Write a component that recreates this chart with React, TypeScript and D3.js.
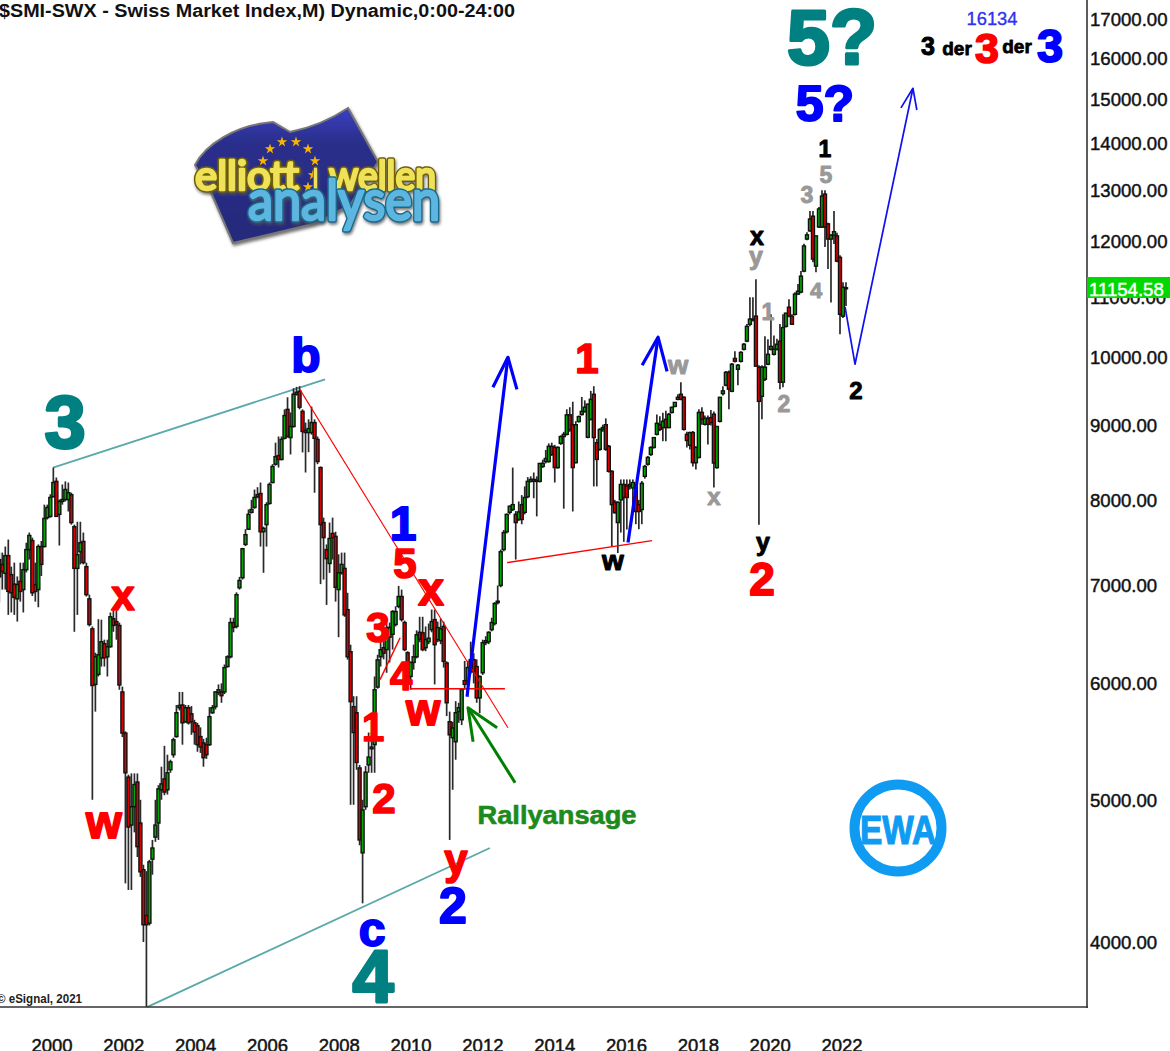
import React from "react";
import * as d3 from "d3";

// Monthly candles, each row is open, high, low, close
const y1998 = [[7285,7365,6810,7090],[7230,7365,6950,7150],[7130,7435,6950,7330],[7330,7517,6680,6930],[7115,7205,6705,6915],[7010,7250,6680,6865]];
const y1999 = [[6850,7095,6610,7005],[7040,7250,6820,6930],[6950,7250,6705,7170],[7170,7480,7140,7400],[7400,7600,7285,7565],[7505,7540,6880,6915],[7005,7250,6820,6930],[6950,7460,6760,7435],[7435,7500,7100,7230],[7435,7940,7425,7770],[7780,7940,7757,7905],[7795,8070,7780,8030]];
const y2000 = [[8040,8415,8030,8220],[8235,8285,7795,7795],[7820,8004,7447,7980],[7980,8195,7940,8004],[8004,8235,7980,8131],[8004,8220,7855,8090],[8065,8090,7695,7720],[7670,7695,6505,7185],[7185,7730,6680,7340],[7375,7730,7230,7480],[7495,7600,7230,7250],[7205,7250,6875,6895]];
const y2001 = [[6850,6895,6560,6580],[6535,6560,4999,5980],[5990,6295,5740,6255],[6085,6635,6065,6275],[6245,6630,6160,6405],[6385,6425,6160,6245],[6255,6425,6065,6355],[6355,6705,6345,6660],[6640,6735,6505,6570],[6610,6725,6425,6580],[6570,6600,5940,5985],[5920,5970,5515,5550]];
const y2002 = [[5550,5565,4385,5215],[5180,5200,4340,4790],[4805,5210,4340,4945],[4945,5210,4750,5120],[5140,5210,4570,4645],[4820,4999,4430,4465],[4480,4515,4000,4110],[4170,4470,3613,4110],[4120,4550,4105,4535],[4555,4694,4445,4635],[4715,4999,4680,4805],[4820,5115,4694,5085]];
const y2003 = [[5078,5265,4999,5125],[5165,5440,5035,5060],[5078,5365,5040,5215],[5240,5323,5215,5305],[5365,5510,5340,5492],[5520,5800,5510,5730],[5775,5920,5750,5795],[5800,5920,5450,5640],[5650,5800,5640,5775],[5775,5800,5625,5640],[5720,5790,5535,5650],[5640,5667,5450,5560]];
const y2004 = [[5615,5640,5390,5450],[5520,5600,5380,5430],[5465,5500,5265,5340],[5450,5510,5330,5365],[5450,5780,5440,5695],[5730,5800,5720,5775],[5785,5925,5760,5920],[5915,5990,5890,5940],[5920,6000,5820,5885],[5920,6180,5900,6150],[6160,6270,6150,6255],[6255,6650,6240,6600]];
const y2005 = [[6600,6650,6500,6550],[6560,6920,6540,6895],[6970,7090,6950,7050],[7080,7420,7060,7410],[7460,7640,7440,7575],[7640,7880,7630,7820],[7845,8000,7830,7880],[7905,8130,7890,8030],[8040,8160,8020,8065],[8080,8220,7435,7610],[7610,7670,7135,7650],[7695,7970,7435,7940]];
const y2006 = [[7955,8220,7940,8195],[8220,8460,8210,8430],[8460,8750,8440,8560],[8575,8835,8415,8523],[8523,8835,8510,8795],[8810,9219,8795,9130],[9219,9395,8820,8835],[8820,9175,8590,8975],[8975,9530,8960,9440],[9440,9550,9420,9470],[9485,9560,9219,9250],[9190,9219,8617,8905]];
const y2007 = [[8920,9030,8350,8890],[8890,9076,8620,8945],[8890,9260,8860,9030],[9030,9076,8090,8810],[8795,8835,8460,8495],[8415,8430,7010,7695],[7720,7780,7060,7540],[7400,7460,6785,7295],[7240,7720,7135,7530],[7590,7780,7285,7540],[7555,7610,6820,6975],[6950,7345,6450,7135]];
const y2008 = [[7135,7365,7115,7230],[7185,7365,6660,6680],[6735,6915,6227,6255],[6305,6375,4960,5830],[5785,5880,4960,5555],[5730,5880,5240,5300],[5255,5280,4655,4694],[4600,4999,4250,4920],[4945,5270,4921,5220],[5280,5555,5215,5345],[5415,5555,5215,5430],[5450,6065,5215,5940]];
const y2009 = [[5965,6275,5950,6225],[6255,6405,6160,6325],[6345,6470,6230,6290],[6326,6590,6100,6548],[6450,6600,6200,6550],[6480,6730,6326,6715],[6580,6770,6560,6715],[6770,6990,6750,6875],[6875,6950,6610,6631],[6600,6620,6310,6326],[6295,6310,5940,6005],[6065,6210,5940,6200]];
const y2010 = [[6200,6376,6130,6255],[6255,6520,6240,6475],[6500,6660,6400,6430],[6495,6660,6310,6326],[6345,6560,6310,6426],[6405,6590,6380,6440],[6527,6736,6500,6610],[6631,6736,5990,6375],[6426,6610,6400,6548],[6415,6640,6380,6535],[6560,6610,6150,6210],[6195,6210,5700,5820]];
const y2011 = [[5650,5740,4694,5535],[5510,5650,5078,5595],[5475,5835,5323,5730],[5740,5820,5640,5775],[5667,5941,5620,5941],[6025,6215,5941,5990],[6025,6215,5990,6150],[6110,6405,6090,6227],[6227,6290,6000,6110],[6160,6230,5820,5865],[5865,6075,5725,6065],[6100,6425,6080,6395]];
const y2012 = [[6415,6460,6370,6395],[6405,6510,6380,6500],[6527,6650,6510,6600],[6590,6815,6570,6800],[6810,6995,6790,6825],[6995,7400,6975,7375],[7400,7630,7380,7600],[7610,7830,7590,7820],[7845,7930,7820,7920],[7880,8415,7860,7940],[7820,7860,7285,7720],[7757,7980,7740,7850]];
const y2013 = [[7940,8060,7700,7757],[7845,8170,7820,8030],[8040,8290,8020,8235],[8235,8300,8220,8260],[8260,8350,8020,8235],[8235,8300,7795,8250],[8235,8475,8220,8470],[8430,8520,8410,8470],[8495,8650,8470,8535],[8495,8740,8480,8700],[8700,8750,8570,8590],[8685,8720,8220,8415]];
const y2014 = [[8415,8700,8400,8685],[8740,8850,8720,8835],[8835,8900,7890,8865],[8865,9220,8850,9140],[9140,9250,8900,8930],[9000,9330,7855,8415],[8480,9050,8470,9000],[9045,9130,9030,9115],[9145,9400,9130,9190],[9190,9350,9170,9250],[8825,9300,8810,9295],[9076,9490,9060,9365]];
const y2015 = [[9440,9560,8170,8820],[8750,8800,8170,8523],[8658,8950,8640,8934],[8934,9000,8900,8960],[9000,9090,8640,8658],[8700,8720,8350,8365],[8365,8380,7435,7940],[7970,8000,7830,7840],[7720,7980,7360,7970],[8000,8260,7600,8195],[8195,8260,7490,8030],[8180,8260,7636,8030]];
const y2016 = [[8195,8260,8130,8170],[8150,8260,7940,8220],[8170,8200,7700,7855],[7940,8000,7640,7855],[7880,8240,7700,8210],[8300,8450,8270,8430],[8460,8570,8440,8550],[8590,8700,8570,8685],[8685,8820,8670,8820],[8865,9145,8850,9020],[9000,9120,8910,8934],[8960,9170,8770,9048]];
const y2017 = [[9076,9200,8770,8960],[8960,9165,8950,9148],[9175,9260,9160,9248],[9262,9325,9250,9320],[9365,9440,9350,9395],[9440,9620,9350,9365],[9395,9410,8920,8934],[8865,8900,8685,8780],[8715,8900,8658,8890],[8890,8910,8430,8480],[8480,8700,8390,8685],[8550,9220,8535,9175]];
const y2018 = [[9175,9250,9000,9076],[9005,9130,8990,9090],[9090,9130,8725,9005],[9100,9210,8990,9030],[9150,9190,8155,8475],[8415,8975,8400,8975],[9048,9400,9030,9395],[9450,9560,9420,9490],[9575,9790,9560,9770],[9770,9800,9219,9515],[9485,9915,9470,9895],[9985,10100,9920,9940]];
const y2019 = [[9817,9900,9575,9880],[9940,10100,9920,10080],[10130,10230,10110,10210],[10260,10540,10240,10500],[10535,10990,10500,10620],[10610,10990,10580,10620],[10670,11307,9860,9865],[9850,9880,7695,9335],[9410,9880,9076,9850],[9665,10340,9640,9850],[9895,10290,9880,10050],[10130,10700,10110,10175]];
const y2020 = [[10050,10350,10030,10130],[10130,10300,10110,10210],[10260,10540,9513,9620],[9620,10700,9545,10480],[10500,10720,10480,10720],[10820,10958,10650,10670],[10670,10700,10530,10535],[10700,11075,10680,11045],[11045,11220,11030,11095],[11080,11450,11060,11360],[11450,11950,11430,11910],[12040,12170,12020,12120]];
const y2021 = [[12195,12580,12180,12424],[12480,12580,11610,11668],[11540,12100,11430,12100],[12270,12660,12250,12621],[12270,13000,12250,12880],[12920,13000,11890,12270],[12330,12350,11490,12040],[12040,12130,10900,12115],[12115,12580,11945,12180],[12100,12160,11610,11630],[11700,11740,10370,10700],[10670,11250,10640,11165]];
const y2022 = [[11155,11250,10840,11155]];

const candles = [y1998,y1999,y2000,y2001,y2002,y2003,y2004,y2005,y2006,y2007,y2008,y2009,y2010,y2011,y2012,y2013,y2014,y2015,y2016,y2017,y2018,y2019,y2020,y2021,y2022].flat();

const priceTicks = [17000,16000,15000,14000,13000,12000,11000,10000,9000,8000,7000,6000,5000,4000];
const yearTicks = [2000,2002,2004,2006,2008,2010,2012,2014,2016,2018,2020,2022];
const lastPrice = 11154.58;

// Trend lines and arrows: candle index, price
const tealUpper = [[17.9,8415],[108.5,9664]];
const tealLower = [[49.2,3612],[163.4,4635]];
const redFall = [[100.1,9513],[169.4,5596]];
const redFlat = [[136.8,5950],[168.4,5950]];
const redShort = [[126.8,6035],[133.5,6445]];
const redRise = [[169.1,7250],[217.4,7505]];
const blueOne = [[155.8,5875],[156.4,6035],[169.4,10003]];
const blueOneHead = [[164.4,9543],[169.4,10003],[172.4,9513]];
const blueTwo = [[209.4,7482],[219.4,10323]];
const blueTwoHead = [[214.1,9880],[219.4,10323],[222.4,9786]];
const forecast = [[281.7,10821],[285,9895],[304.3,15250]];
const forecastHead = [[300.3,14790],[304.3,15250],[305.6,14740]];
const greenArrow = [[171.8,5134],[156.1,5775]];
const greenHead = [[157.8,5475],[156.1,5775],[165.8,5596]];

const TEAL = "#008080", RED = "#ff0000", BLUE = "#0000ff", GRAY = "#999999", BLACK = "#000000";

// Wave labels: text, centre x, baseline y, font size, colour
const labels: [string, number, number, number, string][] = [
  ["5?",832,64,77,TEAL],["5?",825,121,50,BLUE],["1",825,157,23,BLACK],["5",826,183,23,GRAY],["3",807,203,23,GRAY],
  ["x",757,245,25,BLACK],["y",756,265,25,GRAY],["1",768,320,23,GRAY],["4",816,298,22,GRAY],["2",784,412,23,GRAY],["2",856,399,24,BLACK],
  ["b",306,372,48,BLUE],["3",65,448,74,TEAL],["x",123,610,42,RED],["w",104,838,46,RED],["1",403,540,48,BLUE],
  ["5",405,578,42,RED],["x",431,605,46,RED],["3",378,642,42,RED],["4",401,690,40,RED],["w",423,725,44,RED],["1",373,741,40,RED],
  ["2",384,813,42,RED],["y",456,874,42,RED],["2",453,923,50,BLUE],["c",372,946,48,BLUE],["4",373,1002,74,TEAL],
  ["1",587,373,42,RED],["w",678,374,26,GRAY],["w",613,570,28,BLACK],["x",714,505,24,GRAY],["y",763,551,25,BLACK],["2",762,595,46,RED],
  ["3",928,55,25,BLACK],["der",957,55,19,BLACK],["3",987,63,43,RED],["der",1017,53,19,BLACK],["3",1050,62,47,BLUE],
];

const starPos = [[270,149],[282,142],[296,142],[308,149],[315,161],[313,175],[308,187],[263,161]];

const x = d3.scaleLinear().domain([0, candles.length - 1]).range([-0.7, 846]);
const y = d3.scaleLog().domain([4000, 17000]).range([942, 19]);
const yearX = d3.scaleLinear().domain([2000, 2022]).range([52, 842]);
const path = d3.line<number[]>().x((d) => x(d[0])).y((d) => y(d[1]));
const ARIAL = "'Liberation Sans', Arial, sans-serif";
const star = d3.symbol().type(d3.symbolStar).size(34)() as string;

function Poly({ d, stroke, w }: { d: number[][]; stroke: string; w: number }) {
  return <path d={path(d) as string} fill="none" stroke={stroke} strokeWidth={w} strokeLinejoin="round" />;
}

function Tube({ tx, ty, size, len, text, outer, inner }: { tx: number; ty: number; size: number; len: number; text: string; outer: string; inner: string }) {
  const base = { x: tx, y: ty, fontSize: size, textLength: len, lengthAdjust: "spacingAndGlyphs" as const, strokeLinejoin: "round" as const };
  return (
    <g>
      <text {...base} fill={outer} stroke={outer} strokeWidth={5.5}>{text}</text>
      <text {...base} fill={inner} stroke={inner} strokeWidth={2.6}>{text}</text>
    </g>
  );
}

function Logo() {
  return (
    <g>
      <defs>
        <linearGradient id="flag" x1="0" y1="0" x2="0" y2="1">
          <stop offset="0" stopColor="#3a40c0" />
          <stop offset="0.25" stopColor="#2a2f8c" />
          <stop offset="1" stopColor="#26297a" />
        </linearGradient>
        <filter id="soft" x="-10%" y="-10%" width="125%" height="125%">
          <feDropShadow dx="1" dy="2" stdDeviation="1.5" floodColor="#555" floodOpacity="0.8" />
        </filter>
      </defs>
      <path
        d="M195 165 C205 145 235 125 273 122 L290 132 C310 128 330 120 348 108 L378 162 L350 205 L317 223 L233 243 L210 190 Z"
        fill="url(#flag)" stroke="#777" strokeWidth={2} filter="url(#soft)"
      />
      {starPos.map((p, i) => (
        <path key={i} d={star} transform={`translate(${p[0]},${p[1]})`} fill="#f7b500" />
      ))}
      <g filter="url(#soft)" fontFamily="Lato, sans-serif">
        <Tube tx={195} ty={190} size={40} len={104} text="elliott" outer="#6f5f00" inner="#efe25a" />
        <Tube tx={313} ty={190} size={40} len={5} text="ı" outer="#6f5f00" inner="#efe25a" />
        <Tube tx={329} ty={190} size={40} len={107} text="wellen" outer="#6f5f00" inner="#efe25a" />
        <Tube tx={248} ty={220} size={56} len={192} text="analysen" outer="#176a8e" inner="#5cb6e0" />
      </g>
    </g>
  );
}

export default function App() {
  return (
    <svg width={1170} height={1051} viewBox="0 0 1170 1051" style={{ position: "absolute", left: 0, top: 0, background: "#fff", display: "block" }}>
      <Logo />

      <text x={-1} y={17} fontFamily={ARIAL} fontWeight={700} fontSize={18} textLength={516} lengthAdjust="spacingAndGlyphs" fill="#111">$SMI-SWX - Swiss Market Index,M) Dynamic,0:00-24:00</text>
      <text x={-3} y={1003} fontFamily={ARIAL} fontSize={12.5} fontWeight={700} fill="#222" textLength={85} lengthAdjust="spacingAndGlyphs">© eSignal, 2021</text>

      <Poly d={tealUpper} stroke="#5aa8a8" w={1.8} />
      <Poly d={tealLower} stroke="#5aa8a8" w={1.8} />

      {candles.map((c, i) => {
        const [, h, l] = c;
        return <line key={i} x1={x(i)} x2={x(i)} y1={y(h)} y2={y(l)} stroke="#2a2a2a" strokeWidth={1.7} />;
      })}
      {candles.map((c, i) => {
        const [o, , , cl] = c;
        const top = y(Math.max(o, cl));
        const bot = y(Math.min(o, cl));
        return (
          <rect key={i} x={x(i) - 1.5} y={top} width={3} height={Math.max(bot - top, 1)}
            fill={cl >= o ? "#00a800" : "#d80000"} stroke="#111" strokeWidth={1.4} />
        );
      })}

      <Poly d={redFall} stroke={RED} w={1.1} />
      <Poly d={redFlat} stroke={RED} w={1.4} />
      <Poly d={redShort} stroke={RED} w={1.4} />
      <Poly d={redRise} stroke={RED} w={1.4} />
      <Poly d={blueOne} stroke={BLUE} w={3.2} />
      <Poly d={blueOneHead} stroke={BLUE} w={3.2} />
      <Poly d={blueTwo} stroke={BLUE} w={3.2} />
      <Poly d={blueTwoHead} stroke={BLUE} w={3.2} />
      <Poly d={forecast} stroke="#1010f0" w={1.7} />
      <Poly d={forecastHead} stroke="#1010f0" w={1.7} />
      <Poly d={greenArrow} stroke="#008000" w={3} />
      <Poly d={greenHead} stroke="#008000" w={3} />

      {labels.map((l, i) => (
        <text key={i} x={l[1]} y={l[2]} textAnchor="middle" fontFamily={ARIAL} fontWeight={700} fontSize={l[3]} fill={l[4]} stroke={l[4]} strokeWidth={Math.max(0.6, l[3] * 0.04)} strokeLinejoin="round">{l[0]}</text>
      ))}
      <text x={992} y={25} textAnchor="middle" fontFamily={ARIAL} fontSize={19} fill="#3030f0" stroke="#3030f0" strokeWidth={0.35} textLength={51} lengthAdjust="spacingAndGlyphs">16134</text>
      <text x={557} y={824} textAnchor="middle" fontFamily={ARIAL} fontWeight={700} fontSize={25} fill="#1d8a1d" stroke="#1d8a1d" strokeWidth={0.6} textLength={159} lengthAdjust="spacingAndGlyphs">Rallyansage</text>

      <circle cx={898} cy={828} r={43.5} fill="#fff" stroke="#0f9bf2" strokeWidth={10} />
      <text x={898} y={844} textAnchor="middle" fontFamily={ARIAL} fontWeight={700} fontSize={41} fill="#0f9bf2" stroke="#0f9bf2" strokeWidth={1.2} textLength={76} lengthAdjust="spacingAndGlyphs">EWA</text>

      <line x1={1087} x2={1087} y1={0} y2={1008} stroke="#333" strokeWidth={1.6} />
      <line x1={0} x2={1088} y1={1007} y2={1007} stroke="#333" strokeWidth={1.6} />

      {priceTicks.map((p) => (
        <text key={p} x={1090} y={y(p) + 7} fontFamily={ARIAL} fontSize={18.6} fill="#111" stroke="#111" strokeWidth={0.45}>
          {d3.format(".2f")(p)}
        </text>
      ))}
      <rect x={1087} y={277} width={83} height={21} fill="#00d800" />
      <text x={1089} y={y(lastPrice) + 8} fontFamily={ARIAL} fontSize={18.6} fill="#fff" stroke="#fff" strokeWidth={0.45}>
        {d3.format(".2f")(lastPrice)}
      </text>

      {yearTicks.map((t) => (
        <text key={t} x={yearX(t)} y={1052} textAnchor="middle" fontFamily={ARIAL} fontSize={18.5} fill="#111" stroke="#111" strokeWidth={0.5}>{t}</text>
      ))}
    </svg>
  );
}
